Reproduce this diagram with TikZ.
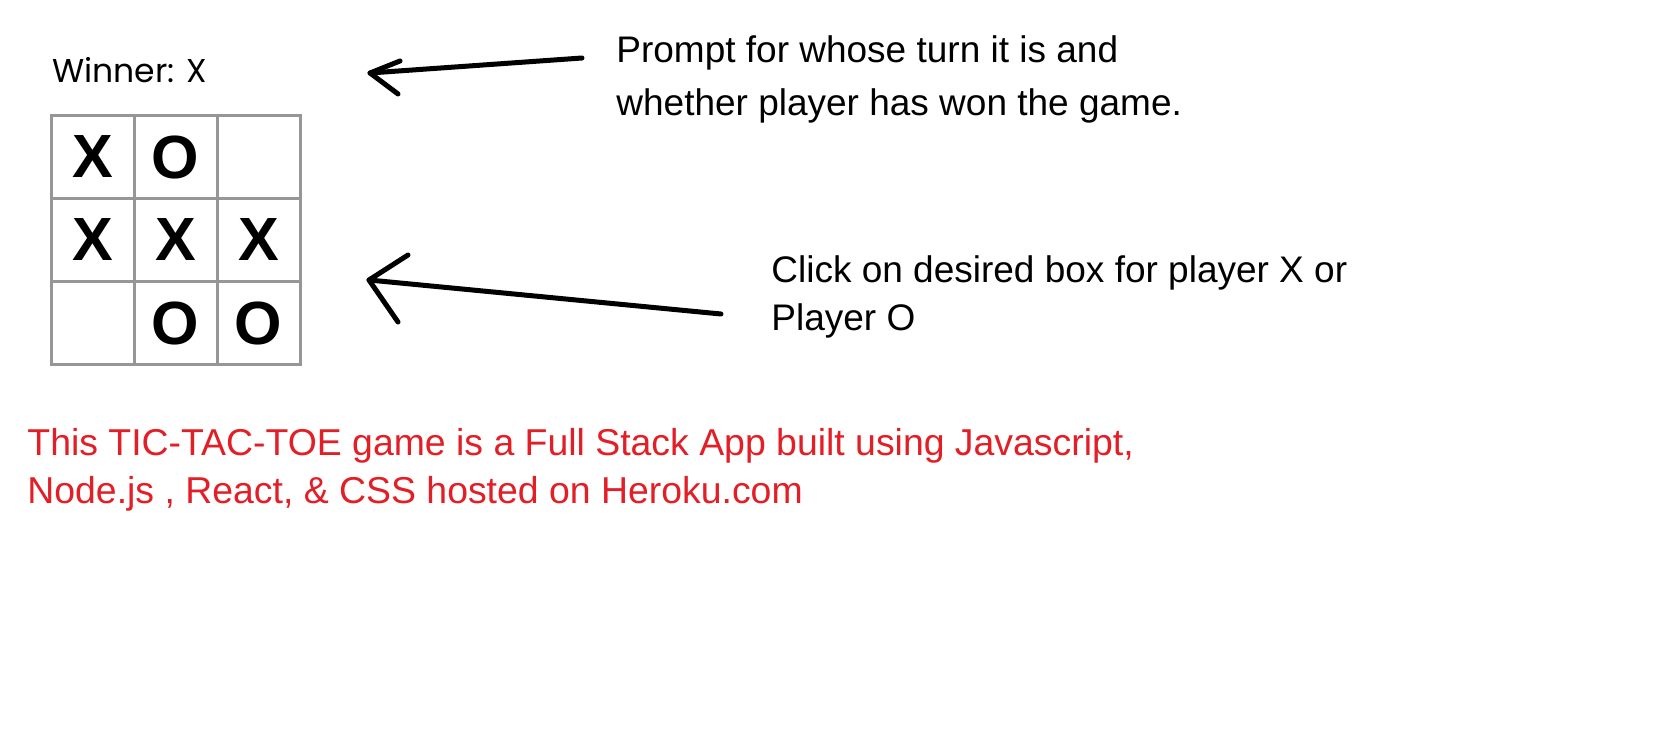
\documentclass[tikz,border=0pt]{standalone}
\usepackage{fontspec}
\usepackage{xcolor}
\usepackage{tikz}
\setmainfont{Liberation Sans}
\newfontfamily\winfont{Poppins}
\definecolor{gridgray}{RGB}{150,150,150}
\definecolor{notered}{RGB}{226,30,38}
\tikzset{
  cell/.style={draw=gridgray,line width=1.5pt,minimum size=41.5pt,inner sep=0pt,
    font=\fontsize{30.5}{30.5}\selectfont\bfseries},
  note/.style={anchor=base west,align=left,inner sep=0pt,
    font=\fontsize{18.5}{24}\selectfont},
  pen/.style={line width=2.5pt,line cap=round,line join=round}
}
\begin{document}
\begin{tikzpicture}[x=0.5pt,y=-0.5pt]
\useasboundingbox (0,0) rectangle (1672,744);
\node[anchor=base west,inner sep=0pt,font=\winfont\fontsize{16.5}{16.5}\selectfont] (winner) at (52,83) {Winner: X};
\foreach \col/\row/\mark in {0/0/X,1/0/O,2/0/,0/1/X,1/1/X,2/1/X,0/2/,1/2/O,2/2/O}
  \node[cell] (c\col\row) at (92.5+83*\col,157+83*\row) {\raisebox{-1pt}{\mark}};
% base anchor sits on the last line
\node[note,font=\fontsize{18.5}{26.5}\selectfont] (prompt) at (616,115) {Prompt for whose turn it is and\\whether player has won the game.};
\node[note] (click) at (771,330) {Click on desired box for player X or\\Player O};
\node[note,text=notered,font=\fontsize{18.7}{24}\selectfont] (about) at (27,503) {This TIC-TAC-TOE game is a Full Stack App built using Javascript,\\Node.js , React, \& CSS hosted on Heroku.com};
\coordinate (promptTip) at (370,73);
\coordinate (promptTail) at (582,58);
\coordinate (clickTip) at (369,280);
\coordinate (clickTail) at (721,314);
\draw[pen] (promptTail) -- (promptTip);
\draw[pen] (400,61) -- (promptTip) -- (398,94);
\draw[pen] (clickTail) -- (clickTip);
\draw[pen] (408,255) -- (clickTip) -- (398,322);
\end{tikzpicture}
\end{document}
